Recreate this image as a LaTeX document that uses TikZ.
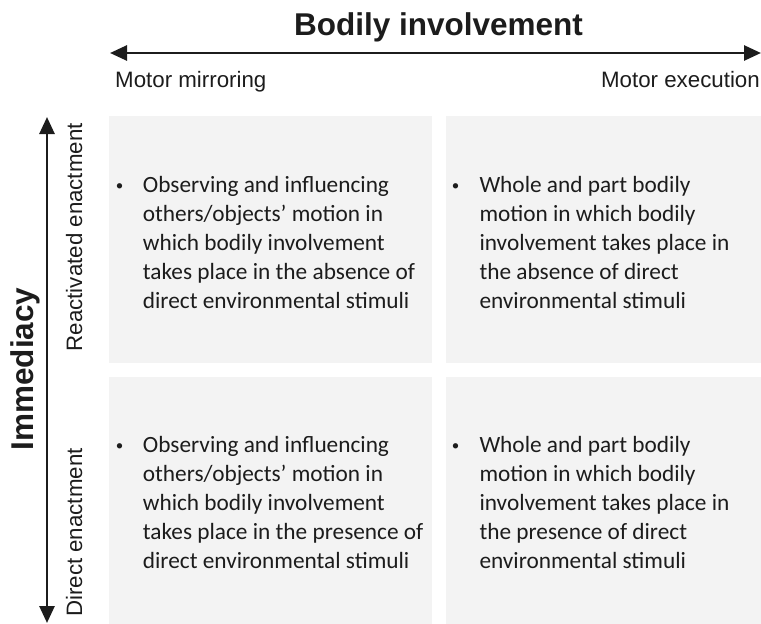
\documentclass[tikz,border=0pt]{standalone}
\usepackage{fontspec}
\setmainfont{Liberation Sans}
\newfontfamily\boxfont{Carlito}
\usetikzlibrary{arrows.meta}
\definecolor{boxgray}{HTML}{F3F3F3}
\definecolor{ink}{HTML}{1C1C1C}
\begin{document}
\begin{tikzpicture}[x=1pt,y=-1pt,
  quad/.style={fill=boxgray},
  axisline/.style={draw=ink,line width=2.7pt,{Triangle[length=17pt,width=15pt]}-{Triangle[length=17pt,width=15pt]}},
  bigtitle/.style={font=\bfseries\fontsize{31.5}{36}\selectfont,text=ink,inner sep=0pt},
  sidelabel/.style={font=\fontsize{22.3}{26}\selectfont,text=ink,inner sep=0pt},
  boxtext/.style={font=\boxfont\fontsize{23.3}{29}\selectfont,text=ink,inner sep=0pt,align=left,anchor=base west},
  bulletmark/.style={font=\boxfont\fontsize{15}{18}\selectfont,text=ink,inner sep=0pt,anchor=base}]
\useasboundingbox (0,0) rectangle (761,624);
% quadrants
\path[quad] (109,116) rectangle (432,363);
\path[quad] (446,116) rectangle (761,363);
\path[quad] (109,377) rectangle (432,624);
\path[quad] (446,377) rectangle (761,624);
% axes
\coordinate (hl) at (110,53);
\coordinate (hr) at (761,53);
\draw[axisline] (hl) -- (hr);
\coordinate (vt) at (47,117);
\coordinate (vb) at (47,623);
\draw[axisline] (vt) -- (vb);
% titles
\node[bigtitle,anchor=base] (title) at (438.5,35) {Bodily involvement};
\node[bigtitle,anchor=base,rotate=90] (imm) at (33,369) {Immediacy};
\node[sidelabel,anchor=base west] (mm) at (115,87) {Motor mirroring};
\node[sidelabel,anchor=base east] (me) at (760,87) {Motor execution};
\node[sidelabel,anchor=base east,rotate=90] (re) at (82,123) {Reactivated enactment};
\node[sidelabel,anchor=base west,rotate=90] (de) at (82,617) {Direct enactment};
% box texts (anchor at baseline of last line)
\node[bulletmark] (b1) at (119.5,190.5) {•};
\node[boxtext] (t1) at (142.7,308.7) {Observing and influencing\\others/objects’ motion in\\which bodily involvement\\takes place in the absence of\\direct environmental stimuli};
\node[bulletmark] (b2) at (455.5,190.5) {•};
\node[boxtext] (t2) at (479.3,308.7) {Whole and part bodily\\motion in which bodily\\involvement takes place in\\the absence of direct\\environmental stimuli};
\node[bulletmark] (b3) at (119.5,450.5) {•};
\node[boxtext] (t3) at (142.7,568.7) {Observing and influencing\\others/objects’ motion in\\which bodily involvement\\takes place in the presence of\\direct environmental stimuli};
\node[bulletmark] (b4) at (455.5,450.5) {•};
\node[boxtext] (t4) at (479.3,568.7) {Whole and part bodily\\motion in which bodily\\involvement takes place in\\the presence of direct\\environmental stimuli};
\end{tikzpicture}
\end{document}
